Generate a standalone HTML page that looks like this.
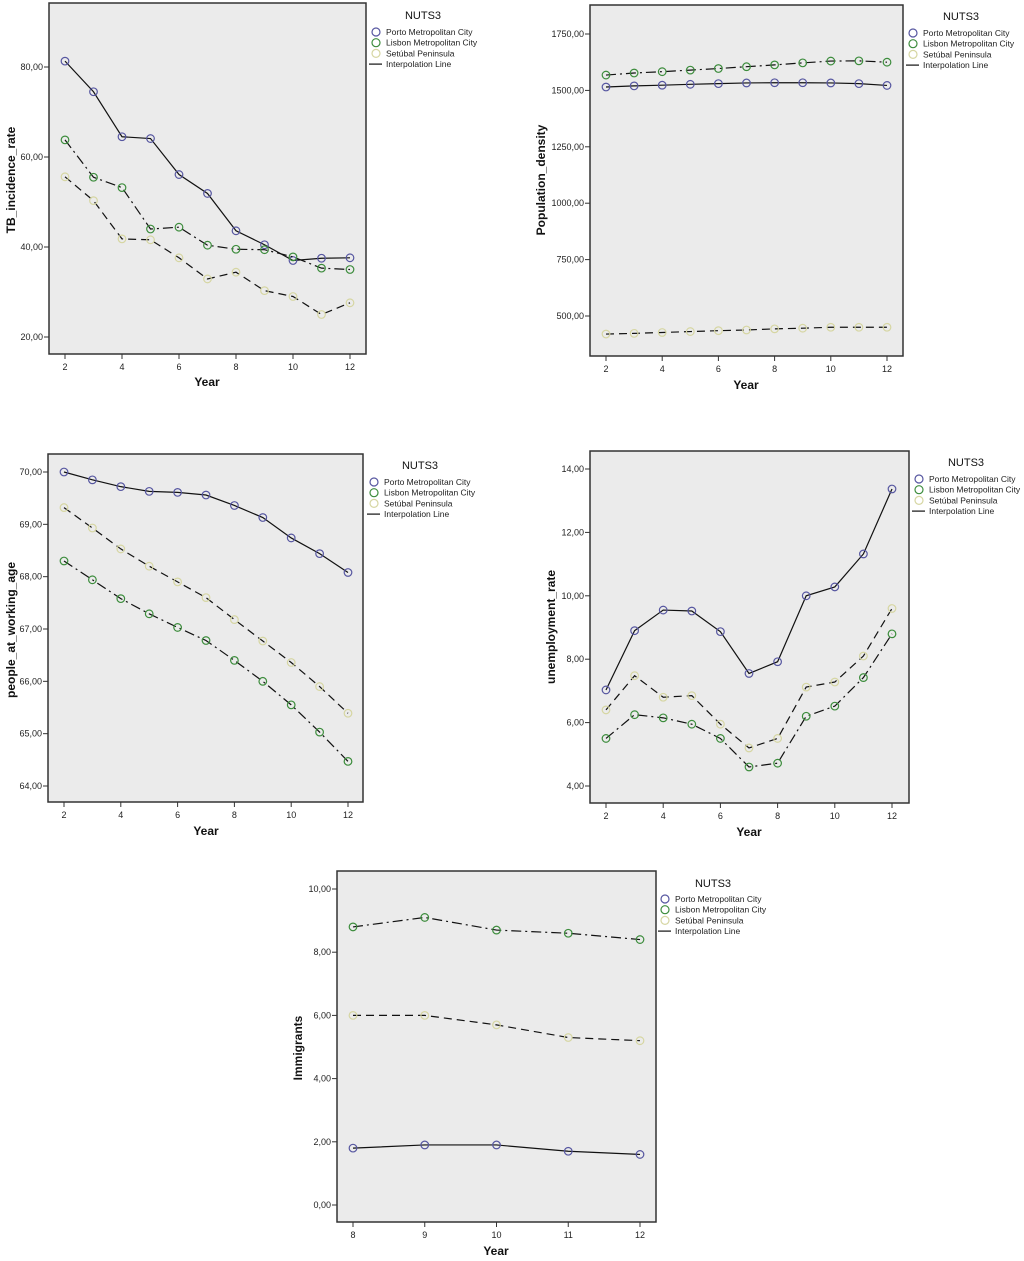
<!DOCTYPE html>
<html><head><meta charset="utf-8"><style>
body{margin:0;background:#fff;width:1024px;height:1261px;overflow:hidden;font-family:"Liberation Sans",Arial,sans-serif}
svg{position:absolute;left:0;top:0}
</style></head><body>
<svg id="chart" width="1024" height="1261"></svg>
<script>
const years1 = [2,3,4,5,6,7,8,9,10,11,12];
const years5 = [8,9,10,11,12];
const tbPorto = [81.3,74.5,64.5,64.1,56.1,51.9,43.6,40.5,37.0,37.5,37.6];
const tbLisbon = [63.8,55.5,53.2,44.0,44.4,40.4,39.5,39.4,37.8,35.3,35.0];
const tbSetubal = [55.6,50.3,41.8,41.6,37.6,32.9,34.4,30.3,29.0,25.0,27.6];
const popPorto = [1515,1520,1523,1527,1530,1533,1534,1534,1533,1530,1522];
const popLisbon = [1568,1577,1583,1590,1597,1605,1613,1622,1630,1631,1625];
const popSetubal = [420,423,427,431,435,438,443,446,450,450,450];
const workPorto = [70.0,69.85,69.72,69.63,69.61,69.56,69.36,69.13,68.74,68.44,68.08];
const workLisbon = [68.3,67.94,67.58,67.29,67.03,66.78,66.4,66.0,65.55,65.03,64.47];
const workSetubal = [69.32,68.93,68.53,68.2,67.9,67.6,67.18,66.77,66.36,65.9,65.39];
const unPorto = [7.03,8.9,9.55,9.52,8.87,7.55,7.92,10.0,10.28,11.32,13.37];
const unLisbon = [5.5,6.25,6.15,5.95,5.5,4.6,4.72,6.2,6.52,7.42,8.8];
const unSetubal = [6.4,7.48,6.8,6.85,5.95,5.2,5.5,7.12,7.28,8.1,9.6];
const imPorto = [1.8,1.9,1.9,1.7,1.6];
const imLisbon = [8.8,9.1,8.7,8.6,8.4];
const imSetubal = [6.0,6.0,5.7,5.3,5.2];
const ticks1 = [20,40,60,80];
const ticks2 = [500,750,1000,1250,1500,1750];
const ticks3 = [64,65,66,67,68,69,70];
const ticks4 = [4,6,8,10,12,14];
const ticks5 = [0,2,4,6,8,10];
const xt1 = [2,4,6,8,10,12];
const xt5 = [8,9,10,11,12];
const legendLabels = ["Porto Metropolitan City","Lisbon Metropolitan City","Setúbal Peninsula","Interpolation Line"];

const NS="http://www.w3.org/2000/svg";
const svg=document.getElementById('chart');
function el(t,a,p){const e=document.createElementNS(NS,t);for(const k in a)e.setAttribute(k,a[k]);(p||svg).appendChild(e);return e;}
const colors=["#5656a0","#3c8c3c","#d6d6a2"];
const dashes=["none","10 4 2 4","8 5"];
const panels=[
 {name:"tb",title:"TB_incidence_rate",box:[49,3,366,354],x0:2,px0:65,x1:12,px1:350,y0:20,py0:337,y1:80,py1:67,ticks:ticks1,fmt:v=>v.toFixed(2).replace('.',','),xs:years1,xt:xt1,series:[tbPorto,tbLisbon,tbSetubal],tx:12,ty:180,yx:207,yy:386,lg:[376,423,15,32]},
 {name:"pop",title:"Population_density",box:[590,5,903,356],x0:2,px0:606,x1:12,px1:887,y0:500,py0:316,y1:1750,py1:34,ticks:ticks2,fmt:v=>v.toFixed(2).replace('.',','),xs:years1,xt:xt1,series:[popPorto,popLisbon,popSetubal],tx:542,ty:180,yx:746,yy:389,lg:[913,961,16,33]},
 {name:"work",title:"people_at_working_age",box:[48,454,363,802],x0:2,px0:64,x1:12,px1:348,y0:64,py0:786,y1:70,py1:472,ticks:ticks3,fmt:v=>v.toFixed(2).replace('.',','),xs:years1,xt:xt1,series:[workPorto,workLisbon,workSetubal],tx:12,ty:630,yx:206,yy:835,lg:[374,420,465,482]},
 {name:"unemp",title:"unemployment_rate",box:[590,451,909,803],x0:2,px0:606,x1:12,px1:892,y0:4,py0:786,y1:14,py1:469,ticks:ticks4,fmt:v=>v.toFixed(2).replace('.',','),xs:years1,xt:xt1,series:[unPorto,unLisbon,unSetubal],tx:552,ty:627,yx:749,yy:836,lg:[919,966,462,479]},
 {name:"immig",title:"Immigrants",box:[337,871,656,1222],x0:8,px0:353,x1:12,px1:640,y0:0,py0:1205,y1:10,py1:889,ticks:ticks5,fmt:v=>v.toFixed(2).replace('.',','),xs:years5,xt:xt5,series:[imPorto,imLisbon,imSetubal],tx:299,ty:1048,yx:496,yy:1255,lg:[665,713,883,899]}
];
panels.forEach(p=>{
 const g=el('g',{});
 
 
 const X=v=>p.px0+(v-p.x0)*(p.px1-p.px0)/(p.x1-p.x0);
 const Y=v=>p.py0+(v-p.y0)*(p.py1-p.py0)/(p.y1-p.y0);
 const [l,t,r,b]=p.box;
 const bg=el('rect',{x:l,y:t,width:r-l,height:b-t,fill:"#ebebeb",stroke:"#333","stroke-width":1.5},g);
 
 
 p.ticks.forEach(v=>{
  const y=Y(v);
  el('line',{x1:l-5,x2:l,y1:y,y2:y,stroke:"#333","stroke-width":1},g);
  const tx=el('text',{x:l-6,y:y+3,"text-anchor":"end","font-size":9,fill:"#222"},g);
  tx.textContent=p.fmt(v);
  
  
 });
 p.xt.forEach(v=>{
  const x=X(v);
  el('line',{x1:x,x2:x,y1:b,y2:b+5,stroke:"#333","stroke-width":1},g);
  const tx=el('text',{x:x,y:b+16,"text-anchor":"middle","font-size":9,fill:"#222"},g);
  tx.textContent=v;
  
  
 });
 const yt=el('text',{x:p.tx,y:p.ty,transform:`rotate(-90 ${p.tx} ${p.ty})`,"text-anchor":"middle","font-size":12,"font-weight":"bold",fill:"#111","dominant-baseline":"middle"},g);
 yt.textContent=p.title;
 
 
 const xtit=el('text',{x:p.yx,y:p.yy,"text-anchor":"middle","font-size":12,"font-weight":"bold",fill:"#111"},g);
 xtit.textContent="Year";
 
 
 p.series.forEach((s,i)=>{
  const pts=s.map((v,j)=>X(p.xs[j])+','+Y(v)).join(' ');
  const pl=el('polyline',{points:pts,fill:"none",stroke:"#111","stroke-width":1.2,"stroke-dasharray":dashes[i]},g);
  
  
  s.forEach((v,j)=>{
   const c=el('circle',{cx:X(p.xs[j]),cy:Y(v),r:3.8,fill:"none",stroke:colors[i],"stroke-width":1.2},g);
   
   
  });
 });
 const [cx,nx,ny,ry]=p.lg;
 const lg=el('g',{},g);
 
 
 const nt=el('text',{x:nx,y:ny+4,"text-anchor":"middle","font-size":11,fill:"#111"},lg);
 nt.textContent="NUTS3";
 legendLabels.forEach((lab,i)=>{
  const y=ry+i*10.7;
  if(i<3){el('circle',{cx:cx,cy:y,r:4,fill:"none",stroke:colors[i],"stroke-width":1.2},lg);}
  else{el('line',{x1:cx-7,x2:cx+6,y1:y,y2:y,stroke:"#111","stroke-width":1.2},lg);}
  const tt=el('text',{x:cx+10,y:y+3,"font-size":8.5,fill:"#222"},lg);
  tt.textContent=lab;
  
  
 });
});
</script>
</body></html>
